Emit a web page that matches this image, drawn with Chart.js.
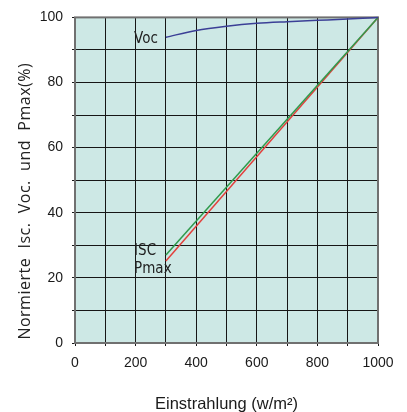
<!DOCTYPE html>
<html>
<head>
<meta charset="utf-8">
<script src="https://cdn.jsdelivr.net/npm/chart.js@4"></script>
<style>
  html, body { margin: 0; padding: 0; background: #fff; }
  #wrap { width: 407px; height: 412px; }
</style>
</head>
<body>
<div id="wrap"><canvas id="myChart"></canvas></div>
<script>
// irradiance (w/m2) and normalised values in %
const vocX = [300, 400, 500, 600, 700, 800, 900, 1000];
const vocY = [93.9, 96, 97.3, 98.2, 98.7, 99.1, 99.5, 100];
const iscX = [300, 1000];
const iscY = [27, 100];
const pmaxX = [300, 1000];
const pmaxY = [25.2, 100];

// inline curve labels [text, x, y]
const curveLabels = [
  ["Voc", 195, 93.2],
  ["ISC", 195, 28.1],
  ["Pmax", 195, 22.6],
];
const yTitle = "Normierte  Isc.  Voc.  und  Pmax(%)";
const xTitle = "Einstrahlung (w/m\u00b2)";

const toPoints = (xs, ys) => xs.map((x, i) => ({ x: x, y: ys[i] }));

const data = {
  datasets: [
    {
      label: "Voc",
      data: toPoints(vocX, vocY),
      borderColor: "#3b3f96",
      borderWidth: 1.5,
      cubicInterpolationMode: "monotone",
    },
    {
      label: "Isc",
      data: toPoints(iscX, iscY),
      borderColor: "#2f9a4c",
      borderWidth: 1.5,
    },
    {
      label: "Pmax",
      data: toPoints(pmaxX, pmaxY),
      borderColor: "#e2403c",
      borderWidth: 1.5,
    },
  ],
};

// background, border and the texts inside the chart
const decor = {
  id: "decor",
  beforeDraw(chart) {
    const { ctx, chartArea: a } = chart;
    ctx.save();
    ctx.fillStyle = "#cde8e5";
    ctx.fillRect(a.left, a.top, a.right - a.left, a.bottom - a.top);
    ctx.restore();
  },
  beforeDatasetsDraw(chart) {
    const { ctx, chartArea: a } = chart;
    ctx.save();
    ctx.strokeStyle = "#707070";
    ctx.lineWidth = 2;
    ctx.strokeRect(a.left, a.top, a.right - a.left, a.bottom - a.top);
    ctx.restore();
  },
  afterDraw(chart) {
    const { ctx, chartArea: a, scales } = chart;
    ctx.save();
    ctx.fillStyle = "#222";
    ctx.font = '15px "Liberation Sans Narrow", "DejaVu Sans Condensed", sans-serif';
    ctx.textAlign = "left";
    ctx.textBaseline = "middle";
    curveLabels.forEach(([t, x, y]) => {
      ctx.fillText(t, scales.x.getPixelForValue(x), scales.y.getPixelForValue(y));
    });
    // y title, sits a bit lower than the axis centre
    ctx.translate(25, (a.top + a.bottom) / 2 + 21);
    ctx.rotate(-Math.PI / 2);
    ctx.textAlign = "center";
    ctx.font = '16px "Open Sans", sans-serif';
    ctx.letterSpacing = "0.5px";
    ctx.fillText(yTitle, 0, 0);
    ctx.restore();
  },
};

const tickFont = { family: "Liberation Sans, Arial, sans-serif", size: 14 };

const config = {
  type: "line",
  data: data,
  options: {
    responsive: true,
    maintainAspectRatio: false,
    animation: false,
    layout: { padding: { top: 16, right: 29, left: 0, bottom: 0 } },
    elements: { point: { radius: 0 } },
    datasets: { line: { clip: 4 } },
    plugins: {
      legend: false,
      tooltip: { enabled: false },
    },
    scales: {
      x: {
        type: "linear",
        min: 0,
        max: 1000,
        afterFit: (s) => { s.height = 69; },
        grid: { color: "#161616", lineWidth: 1, tickLength: 3 },
        border: { display: false },
        ticks: {
          stepSize: 100,
          padding: 9,
          color: "#1a1a1a",
          font: tickFont,
          maxRotation: 0,
          autoSkip: false,
          callback: (v) => (v % 200 === 0 ? v : ""),
        },
        title: {
          display: true,
          text: xTitle,
          color: "#1a1a1a",
          font: { family: "Liberation Sans, Arial, sans-serif", size: 16.5 },
          padding: { top: 0, bottom: -2 },
        },
      },
      y: {
        min: 0,
        max: 100,
        afterFit: (s) => { s.width = 75; },
        grid: { color: "#161616", lineWidth: 1, tickLength: 3 },
        border: { display: false },
        ticks: {
          stepSize: 10,
          padding: 9,
          color: "#1a1a1a",
          font: tickFont,
          autoSkip: false,
          callback: (v) => (v % 20 === 0 ? v : ""),
        },
      },
    },
  },
  plugins: [decor],
};

const context = document.getElementById("myChart").getContext("2d");
const chart = new Chart(context, config);
</script>
</body>
</html>
